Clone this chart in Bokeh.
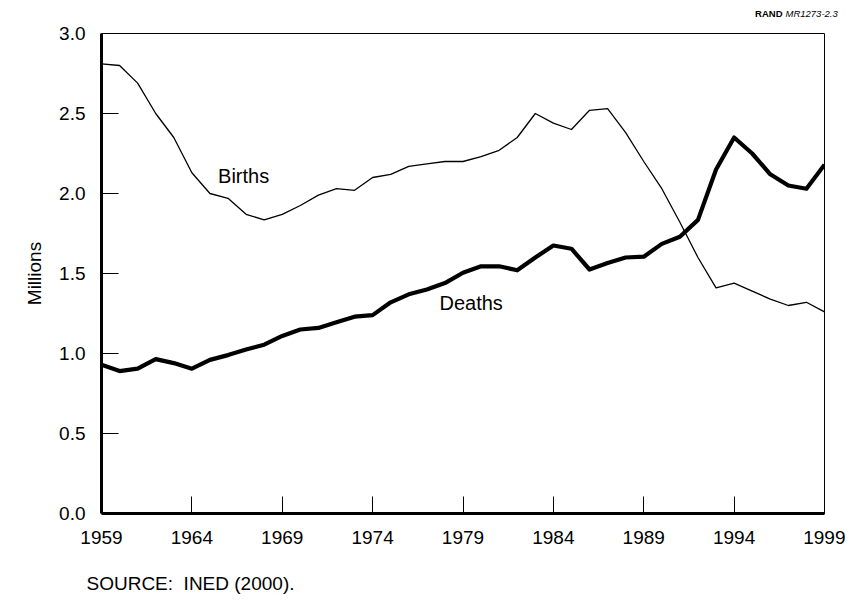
from bokeh.plotting import figure
from bokeh.layouts import column
from bokeh.models import Range1d, FixedTicker, Label, NumeralTickFormatter, Plot
from bokeh.embed import file_html
from bokeh.resources import INLINE

years = list(range(1959, 2000))
births = [2.81, 2.80, 2.69, 2.50, 2.35, 2.13, 2.00, 1.97, 1.87, 1.835,
          1.87, 1.925, 1.99, 2.03, 2.02, 2.10, 2.12, 2.17, 2.185, 2.20,
          2.20, 2.23, 2.27, 2.35, 2.50, 2.44, 2.40, 2.52, 2.53, 2.38,
          2.20, 2.03, 1.82, 1.60, 1.41, 1.44, 1.39, 1.34, 1.30, 1.32, 1.26]
deaths = [0.93, 0.89, 0.905, 0.965, 0.94, 0.905, 0.96, 0.99, 1.025, 1.055,
          1.11, 1.15, 1.16, 1.195, 1.23, 1.24, 1.32, 1.37, 1.40, 1.44,
          1.505, 1.545, 1.545, 1.52, 1.60, 1.675, 1.655, 1.525, 1.565, 1.60,
          1.605, 1.685, 1.73, 1.835, 2.15, 2.35, 2.25, 2.12, 2.05, 2.03, 2.18]
x_ticks = [1959, 1964, 1969, 1974, 1979, 1984, 1989, 1994, 1999]
y_ticks = [0.0, 0.5, 1.0, 1.5, 2.0, 2.5, 3.0]

FONT = "Liberation Sans"
W = 845
HEAD_H = 24
MAIN_H = 531
FOOT_H = 44
HAS_FRAME_ALIGN = "frame_align" in Plot.properties()


def strip(h):
    f = figure(width=W, height=h, output_backend="svg", toolbar_location=None,
               x_range=Range1d(0, W), y_range=Range1d(0, h),
               x_axis_type=None, y_axis_type=None,
               min_border_left=0, min_border_right=0, min_border_top=0, min_border_bottom=0)
    f.grid.visible = False
    f.outline_line_color = None
    f.background_fill_color = "white"
    f.border_fill_color = "white"
    if HAS_FRAME_ALIGN:
        f.frame_align = False
    return f


# header strip with the report id
head = strip(HEAD_H)
head.add_layout(Label(x=782, y=11, text="RAND", text_font=FONT, text_font_size="9.5px",
                      text_font_style="bold", text_baseline="middle", text_align="right",
                      text_color="black"))
head.add_layout(Label(x=785, y=11, text="MR1273-2.3", text_font=FONT, text_font_size="9.5px",
                      text_font_style="italic", text_baseline="middle", text_align="left",
                      text_color="black"))

p = figure(width=W, height=MAIN_H, output_backend="svg", toolbar_location=None,
           x_range=Range1d(1959, 1999), y_range=Range1d(0, 3.0),
           min_border_left=101, min_border_right=W - 824, min_border_top=33 - HEAD_H,
           min_border_bottom=MAIN_H - (513 - HEAD_H))
if HAS_FRAME_ALIGN:
    p.frame_align = False
p.grid.visible = False
p.outline_line_color = "black"
p.outline_line_width = 1
p.background_fill_color = "white"
p.border_fill_color = "white"

for ax in (p.xaxis[0], p.yaxis[0]):
    ax.axis_line_width = 3
    ax.axis_line_color = "black"
    ax.major_tick_in = 17
    ax.major_tick_out = 0
    ax.major_tick_line_width = 1
    ax.minor_tick_line_color = None
    ax.major_label_text_font = FONT
    ax.major_label_text_font_size = "19px"
    ax.major_label_text_color = "black"

p.xaxis.ticker = FixedTicker(ticks=x_ticks)
p.xaxis.major_label_standoff = 17
p.yaxis.ticker = FixedTicker(ticks=y_ticks)
p.yaxis.formatter = NumeralTickFormatter(format="0.0")
p.yaxis.major_label_standoff = 16
p.yaxis.axis_label = "Millions"
p.yaxis.axis_label_text_font = FONT
p.yaxis.axis_label_text_font_size = "19px"
p.yaxis.axis_label_text_font_style = "normal"
p.yaxis.axis_label_text_color = "black"
p.yaxis.axis_label_standoff = 11

p.line(years, births, line_color="black", line_width=1.3, line_join="round")
p.line(years, deaths, line_color="black", line_width=4.2, line_join="round")

p.add_layout(Label(x=1965.45, y=2.11, text="Births", text_font=FONT, text_font_size="20px",
                   text_baseline="middle", text_align="left", text_color="black"))
p.add_layout(Label(x=1977.7, y=1.316, text="Deaths", text_font=FONT, text_font_size="20px",
                   text_baseline="middle", text_align="left", text_color="black"))

# footer strip with the source note
foot = strip(FOOT_H)
foot.add_layout(Label(x=86, y=FOOT_H - (583 - HEAD_H - MAIN_H), text="SOURCE:\u00a0 INED (2000).",
                      text_font=FONT, text_font_size="19px", text_baseline="middle",
                      text_align="left", text_color="black"))

layout = column(head, p, foot, spacing=0)
open("out.html", "w").write(file_html(layout, INLINE))
